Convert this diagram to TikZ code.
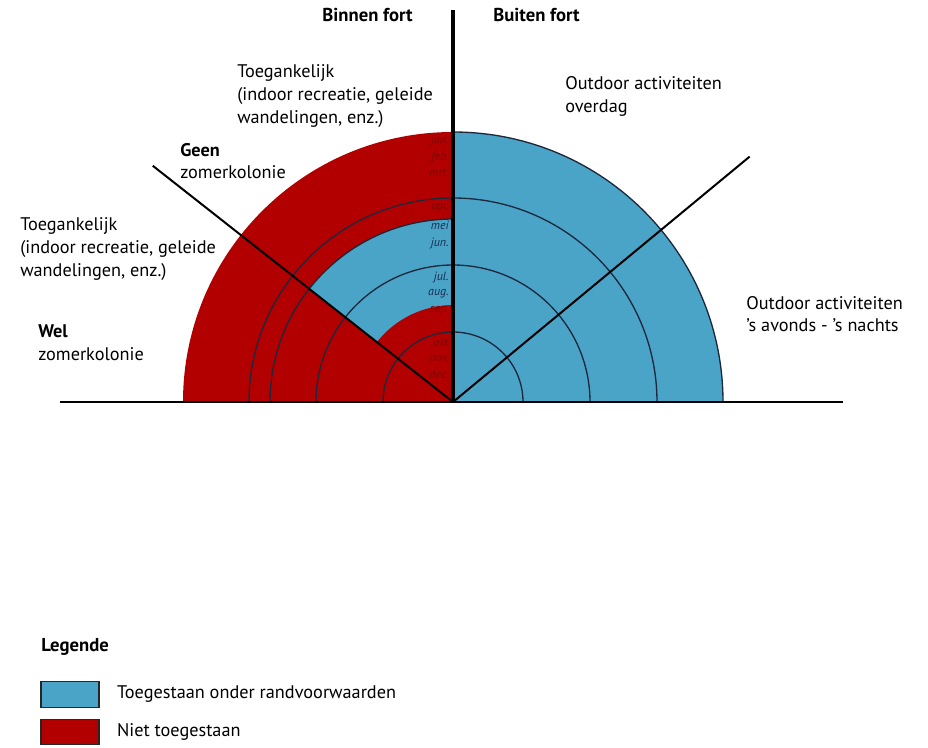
\documentclass[tikz,border=0pt]{standalone}
\usepackage{fontspec}
\setmainfont{PT Sans}
\usetikzlibrary{positioning}
\definecolor{fortred}{RGB}{178,0,0}
\definecolor{fortblue}{RGB}{74,164,200}
\definecolor{monred}{RGB}{130,0,0}
\definecolor{monblue}{RGB}{25,45,80}
\definecolor{ringline}{RGB}{30,40,60}

\begin{document}
\begin{tikzpicture}[x=0.75pt,y=0.75pt,
    lbl/.style={anchor=west, align=left, inner sep=0pt, font=\fontsize{13.7}{17}\selectfont},
    head/.style={inner sep=0pt, font=\fontsize{14}{17}\selectfont\bfseries},
    mon/.style={anchor=east, inner sep=0pt, font=\fontsize{9}{10}\selectfont\itshape},
    ring/.style={draw=ringline, line width=1pt},
    legbox/.style={draw=black!85, line width=0.8pt, minimum width=43.5pt, minimum height=19pt, inner sep=0pt}]
    \useasboundingbox (-453,-345) rectangle (475,402);

    % Sectors
    \coordinate (ctr) at (0,0);
    \fill[fortred] (ctr) -- (-270,0) arc[start angle=180, end angle=90, radius=270] -- cycle;
    \fill[fortblue] (ctr) -- (270,0) arc[start angle=0, end angle=90, radius=270] -- cycle;
    \fill[fortblue] (90:97) -- (90:183) arc[start angle=90, end angle=141.8, radius=183]
        -- (141.8:97) arc[start angle=141.8, end angle=90, radius=97] -- cycle;

    % Rings
    \foreach \r in {70,137,204,270} {
        \draw[ring] (\r,0) arc[start angle=0, end angle=90, radius=\r];
    }
    \foreach \r in {70,137,183,204} {
        \draw[ring] (0,\r) arc[start angle=90, end angle=180, radius=\r];
    }

    % Dividers
    \coordinate (geentip) at (141.8:382);
    \coordinate (daytip) at (39.6:385);
    \coordinate (baseL) at (-393,0);
    \coordinate (baseR) at (390,0);
    \coordinate (fortTop) at (0,392);
    \draw[line width=1.5pt] (geentip) -- (ctr);
    \draw[line width=1.5pt] (ctr) -- (daytip);
    \draw[line width=1.5pt] (baseL) -- (baseR);
    \draw[line width=2.6pt] (ctr) -- (fortTop);

    % Months
    \foreach \y/\m/\c [count=\i] in {262/jan./monred, 245/feb./monred, 229/mrt./monred,
        194/apr./monred, 177/mei/monblue, 159/jun./monblue, 125/jul./monblue,
        108/aug./monblue, 91/sep./monred, 60/okt/monred, 44/nov./monred, 28/dec./monred} {
        \node[mon, text=\c] (mon\i) at (-4,\y) {\m};
    }

    % Labels
    \node[head, anchor=east] (binnen) at (-40,387) {Binnen fort};
    \node[head, anchor=west] (buiten) at (40,387) {Buiten fort};
    \node[lbl] (toegtop) at (-216,306) {Toegankelijk\\(indoor recreatie, geleide\\wandelingen, enz.)};
    \node[lbl] (geen) at (-273,241) {\textbf{Geen}\\zomerkolonie};
    \node[lbl] (toegleft) at (-433,153) {Toegankelijk\\(indoor recreatie, geleide\\wandelingen, enz.)};
    \node[lbl] (wel) at (-415,59) {\textbf{Wel}\\zomerkolonie};
    \node[lbl] (overdag) at (112,305.5) {Outdoor activiteiten\\overdag};
    \node[lbl] (avond) at (293,88) {Outdoor activiteiten\\’s avonds - ’s nachts};

    % Legend
    \node[head, anchor=west] (legend) at (-412,-245) {Legende};
    \node[legbox, fill=fortblue] (legblue) at (-383,-292.5) {};
    \node[legbox, fill=fortred] (legred) at (-383,-330) {};
    \node[lbl, right=13pt of legblue] (legbluetxt) {Toegestaan onder randvoorwaarden};
    \node[lbl, right=13pt of legred] (legredtxt) {Niet toegestaan};
\end{tikzpicture}
\end{document}
